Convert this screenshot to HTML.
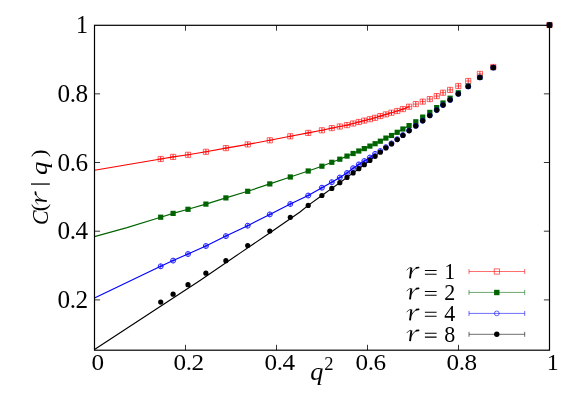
<!DOCTYPE html>
<html><head><meta charset="utf-8"><title>C(r|q) vs q^2</title>
<style>html,body{margin:0;padding:0;background:#fff;}svg{display:block;will-change:transform;}</style>
</head><body>
<svg width="581" height="407" viewBox="0 0 581 407">
<rect width="581" height="407" fill="#fff"/>
<polyline fill="none" stroke="#ff0000" stroke-width="1.15" points="94.5,170.2 160.7,159.0 173.1,156.9 188.0,154.8 205.9,151.8 225.9,148.1 247.7,144.4 269.8,140.3 290.3,136.3 308.2,132.9 321.9,130.3 331.8,128.1 339.8,126.5 347.0,125.1 353.1,123.5 358.8,122.0 364.3,120.6 369.9,119.2 375.1,117.8 380.3,116.1 385.9,114.4 391.5,112.7 397.2,111.0 402.9,109.1 409.1,106.7"/>
<polyline fill="none" stroke="#006400" stroke-width="1.15" points="94.5,236.6 127.0,227.6 160.7,217.2 173.1,213.4 188.0,209.3 205.9,204.1 225.9,197.9 247.7,191.3 269.8,183.9 290.3,177.0 308.2,171.0 321.9,166.2 331.8,162.3 339.8,159.2 347.0,156.1 353.1,153.5 358.8,151.0 364.3,148.6 369.9,146.1 375.1,143.7 380.3,141.2 385.9,138.1 391.5,135.5 397.2,132.3 402.9,129.0 409.1,125.6"/>
<polyline fill="none" stroke="#0000ff" stroke-width="1.15" points="94.5,298.0 160.7,266.3 173.1,260.6 188.0,254.0 205.9,246.0 225.9,236.1 247.7,225.7 269.8,214.4 290.3,204.0 308.2,195.5 321.9,187.7 331.8,182.2 339.8,177.5 347.0,173.0 353.1,168.2 358.8,164.4 364.3,161.0 369.9,157.5 375.1,153.9"/>
<polyline fill="none" stroke="#000000" stroke-width="1.15" points="94.5,349.5 156.0,309.3 200.0,280.5 240.0,253.1 270.0,232.8 300.0,212.0 308.2,205.4 321.9,195.5 331.8,188.4 339.8,182.7 347.0,177.4 353.1,172.9 358.8,168.7 364.3,164.7 369.9,160.4 375.1,156.3"/>
<path d="M158.1 156.4h5.2v5.2h-5.2zM158.1 159.0h5.2" fill="none" stroke="#ff0000" stroke-width="0.6"/>
<path d="M160.7 156.4v5.2" fill="none" stroke="#ff0000" stroke-width="0.9"/>
<path d="M170.5 154.3h5.2v5.2h-5.2zM170.5 156.9h5.2" fill="none" stroke="#ff0000" stroke-width="0.6"/>
<path d="M173.1 154.3v5.2" fill="none" stroke="#ff0000" stroke-width="0.9"/>
<path d="M185.4 152.2h5.2v5.2h-5.2zM185.4 154.8h5.2" fill="none" stroke="#ff0000" stroke-width="0.6"/>
<path d="M188.0 152.2v5.2" fill="none" stroke="#ff0000" stroke-width="0.9"/>
<path d="M203.3 149.2h5.2v5.2h-5.2zM203.3 151.8h5.2" fill="none" stroke="#ff0000" stroke-width="0.6"/>
<path d="M205.9 149.2v5.2" fill="none" stroke="#ff0000" stroke-width="0.9"/>
<path d="M223.3 145.5h5.2v5.2h-5.2zM223.3 148.1h5.2" fill="none" stroke="#ff0000" stroke-width="0.6"/>
<path d="M225.9 145.5v5.2" fill="none" stroke="#ff0000" stroke-width="0.9"/>
<path d="M245.1 141.8h5.2v5.2h-5.2zM245.1 144.4h5.2" fill="none" stroke="#ff0000" stroke-width="0.6"/>
<path d="M247.7 141.8v5.2" fill="none" stroke="#ff0000" stroke-width="0.9"/>
<path d="M267.2 137.7h5.2v5.2h-5.2zM267.2 140.3h5.2" fill="none" stroke="#ff0000" stroke-width="0.6"/>
<path d="M269.8 137.7v5.2" fill="none" stroke="#ff0000" stroke-width="0.9"/>
<path d="M287.7 133.7h5.2v5.2h-5.2zM287.7 136.3h5.2" fill="none" stroke="#ff0000" stroke-width="0.6"/>
<path d="M290.3 133.7v5.2" fill="none" stroke="#ff0000" stroke-width="0.9"/>
<path d="M305.6 130.3h5.2v5.2h-5.2zM305.6 132.9h5.2" fill="none" stroke="#ff0000" stroke-width="0.6"/>
<path d="M308.2 130.3v5.2" fill="none" stroke="#ff0000" stroke-width="0.9"/>
<path d="M319.3 127.7h5.2v5.2h-5.2zM319.3 130.3h5.2" fill="none" stroke="#ff0000" stroke-width="0.6"/>
<path d="M321.9 127.7v5.2" fill="none" stroke="#ff0000" stroke-width="0.9"/>
<path d="M329.2 125.5h5.2v5.2h-5.2zM329.2 128.1h5.2" fill="none" stroke="#ff0000" stroke-width="0.6"/>
<path d="M331.8 125.5v5.2" fill="none" stroke="#ff0000" stroke-width="0.9"/>
<path d="M337.2 123.9h5.2v5.2h-5.2zM337.2 126.5h5.2" fill="none" stroke="#ff0000" stroke-width="0.6"/>
<path d="M339.8 123.9v5.2" fill="none" stroke="#ff0000" stroke-width="0.9"/>
<path d="M344.4 122.5h5.2v5.2h-5.2zM344.4 125.1h5.2" fill="none" stroke="#ff0000" stroke-width="0.6"/>
<path d="M347.0 122.5v5.2" fill="none" stroke="#ff0000" stroke-width="0.9"/>
<path d="M350.5 120.9h5.2v5.2h-5.2zM350.5 123.5h5.2" fill="none" stroke="#ff0000" stroke-width="0.6"/>
<path d="M353.1 120.9v5.2" fill="none" stroke="#ff0000" stroke-width="0.9"/>
<path d="M356.2 119.4h5.2v5.2h-5.2zM356.2 122.0h5.2" fill="none" stroke="#ff0000" stroke-width="0.6"/>
<path d="M358.8 119.4v5.2" fill="none" stroke="#ff0000" stroke-width="0.9"/>
<path d="M361.7 118.0h5.2v5.2h-5.2zM361.7 120.6h5.2" fill="none" stroke="#ff0000" stroke-width="0.6"/>
<path d="M364.3 118.0v5.2" fill="none" stroke="#ff0000" stroke-width="0.9"/>
<path d="M367.3 116.6h5.2v5.2h-5.2zM367.3 119.2h5.2" fill="none" stroke="#ff0000" stroke-width="0.6"/>
<path d="M369.9 116.6v5.2" fill="none" stroke="#ff0000" stroke-width="0.9"/>
<path d="M372.5 115.2h5.2v5.2h-5.2zM372.5 117.8h5.2" fill="none" stroke="#ff0000" stroke-width="0.6"/>
<path d="M375.1 115.2v5.2" fill="none" stroke="#ff0000" stroke-width="0.9"/>
<path d="M377.7 113.5h5.2v5.2h-5.2zM377.7 116.1h5.2" fill="none" stroke="#ff0000" stroke-width="0.6"/>
<path d="M380.3 113.5v5.2" fill="none" stroke="#ff0000" stroke-width="0.9"/>
<path d="M383.3 111.8h5.2v5.2h-5.2zM383.3 114.4h5.2" fill="none" stroke="#ff0000" stroke-width="0.6"/>
<path d="M385.9 111.8v5.2" fill="none" stroke="#ff0000" stroke-width="0.9"/>
<path d="M388.9 110.1h5.2v5.2h-5.2zM388.9 112.7h5.2" fill="none" stroke="#ff0000" stroke-width="0.6"/>
<path d="M391.5 110.1v5.2" fill="none" stroke="#ff0000" stroke-width="0.9"/>
<path d="M394.6 108.4h5.2v5.2h-5.2zM394.6 111.0h5.2" fill="none" stroke="#ff0000" stroke-width="0.6"/>
<path d="M397.2 108.4v5.2" fill="none" stroke="#ff0000" stroke-width="0.9"/>
<path d="M400.3 106.5h5.2v5.2h-5.2zM400.3 109.1h5.2" fill="none" stroke="#ff0000" stroke-width="0.6"/>
<path d="M402.9 106.5v5.2" fill="none" stroke="#ff0000" stroke-width="0.9"/>
<path d="M406.5 104.1h5.2v5.2h-5.2zM406.5 106.7h5.2" fill="none" stroke="#ff0000" stroke-width="0.6"/>
<path d="M409.1 104.1v5.2" fill="none" stroke="#ff0000" stroke-width="0.9"/>
<path d="M413.2 101.5h5.2v5.2h-5.2zM413.2 104.1h5.2" fill="none" stroke="#ff0000" stroke-width="0.6"/>
<path d="M415.8 101.5v5.2" fill="none" stroke="#ff0000" stroke-width="0.9"/>
<path d="M420.1 99.0h5.2v5.2h-5.2zM420.1 101.6h5.2" fill="none" stroke="#ff0000" stroke-width="0.6"/>
<path d="M422.7 99.0v5.2" fill="none" stroke="#ff0000" stroke-width="0.9"/>
<path d="M427.2 96.5h5.2v5.2h-5.2zM427.2 99.1h5.2" fill="none" stroke="#ff0000" stroke-width="0.6"/>
<path d="M429.8 96.5v5.2" fill="none" stroke="#ff0000" stroke-width="0.9"/>
<path d="M434.1 93.5h5.2v5.2h-5.2zM434.1 96.1h5.2" fill="none" stroke="#ff0000" stroke-width="0.6"/>
<path d="M436.7 93.5v5.2" fill="none" stroke="#ff0000" stroke-width="0.9"/>
<path d="M440.4 90.1h5.2v5.2h-5.2zM440.4 92.7h5.2" fill="none" stroke="#ff0000" stroke-width="0.6"/>
<path d="M443.0 90.1v5.2" fill="none" stroke="#ff0000" stroke-width="0.9"/>
<path d="M447.5 87.3h5.2v5.2h-5.2zM447.5 89.9h5.2" fill="none" stroke="#ff0000" stroke-width="0.6"/>
<path d="M450.1 87.3v5.2" fill="none" stroke="#ff0000" stroke-width="0.9"/>
<path d="M455.7 83.4h5.2v5.2h-5.2zM455.7 86.0h5.2" fill="none" stroke="#ff0000" stroke-width="0.6"/>
<path d="M458.3 83.4v5.2" fill="none" stroke="#ff0000" stroke-width="0.9"/>
<path d="M465.6 78.4h5.2v5.2h-5.2zM465.6 81.0h5.2" fill="none" stroke="#ff0000" stroke-width="0.6"/>
<path d="M468.2 78.4v5.2" fill="none" stroke="#ff0000" stroke-width="0.9"/>
<path d="M477.3 71.3h5.2v5.2h-5.2zM477.3 73.9h5.2" fill="none" stroke="#ff0000" stroke-width="0.6"/>
<path d="M479.9 71.3v5.2" fill="none" stroke="#ff0000" stroke-width="0.9"/>
<path d="M490.7 64.4h5.2v5.2h-5.2zM490.7 67.0h5.2" fill="none" stroke="#ff0000" stroke-width="0.6"/>
<path d="M493.3 64.4v5.2" fill="none" stroke="#ff0000" stroke-width="0.9"/>
<path d="M546.9 22.4h5.2v5.2h-5.2zM546.9 25.0h5.2" fill="none" stroke="#ff0000" stroke-width="0.6"/>
<path d="M549.5 22.4v5.2" fill="none" stroke="#ff0000" stroke-width="0.9"/>
<rect x="158.1" y="214.6" width="5.2" height="5.2" fill="#006400"/>
<rect x="170.5" y="210.8" width="5.2" height="5.2" fill="#006400"/>
<rect x="185.4" y="206.7" width="5.2" height="5.2" fill="#006400"/>
<rect x="203.3" y="201.5" width="5.2" height="5.2" fill="#006400"/>
<rect x="223.3" y="195.3" width="5.2" height="5.2" fill="#006400"/>
<rect x="245.1" y="188.7" width="5.2" height="5.2" fill="#006400"/>
<rect x="267.2" y="181.3" width="5.2" height="5.2" fill="#006400"/>
<rect x="287.7" y="174.4" width="5.2" height="5.2" fill="#006400"/>
<rect x="305.6" y="168.4" width="5.2" height="5.2" fill="#006400"/>
<rect x="319.3" y="163.6" width="5.2" height="5.2" fill="#006400"/>
<rect x="329.2" y="159.7" width="5.2" height="5.2" fill="#006400"/>
<rect x="337.2" y="156.6" width="5.2" height="5.2" fill="#006400"/>
<rect x="344.4" y="153.5" width="5.2" height="5.2" fill="#006400"/>
<rect x="350.5" y="150.9" width="5.2" height="5.2" fill="#006400"/>
<rect x="356.2" y="148.4" width="5.2" height="5.2" fill="#006400"/>
<rect x="361.7" y="146.0" width="5.2" height="5.2" fill="#006400"/>
<rect x="367.3" y="143.5" width="5.2" height="5.2" fill="#006400"/>
<rect x="372.5" y="141.1" width="5.2" height="5.2" fill="#006400"/>
<rect x="377.7" y="138.6" width="5.2" height="5.2" fill="#006400"/>
<rect x="383.3" y="135.5" width="5.2" height="5.2" fill="#006400"/>
<rect x="388.9" y="132.9" width="5.2" height="5.2" fill="#006400"/>
<rect x="394.6" y="129.7" width="5.2" height="5.2" fill="#006400"/>
<rect x="400.3" y="126.4" width="5.2" height="5.2" fill="#006400"/>
<rect x="406.5" y="123.0" width="5.2" height="5.2" fill="#006400"/>
<rect x="413.2" y="119.2" width="5.2" height="5.2" fill="#006400"/>
<rect x="420.1" y="114.5" width="5.2" height="5.2" fill="#006400"/>
<rect x="427.2" y="109.8" width="5.2" height="5.2" fill="#006400"/>
<rect x="434.1" y="105.0" width="5.2" height="5.2" fill="#006400"/>
<rect x="440.4" y="100.4" width="5.2" height="5.2" fill="#006400"/>
<rect x="447.5" y="95.6" width="5.2" height="5.2" fill="#006400"/>
<rect x="455.7" y="90.2" width="5.2" height="5.2" fill="#006400"/>
<rect x="465.6" y="83.4" width="5.2" height="5.2" fill="#006400"/>
<rect x="477.3" y="74.8" width="5.2" height="5.2" fill="#006400"/>
<rect x="490.7" y="65.0" width="5.2" height="5.2" fill="#006400"/>
<rect x="546.9" y="22.4" width="5.2" height="5.2" fill="#006400"/>
<circle cx="160.7" cy="266.3" r="2.5" fill="none" stroke="#0000ff" stroke-width="0.8"/>
<path d="M160.7 263.8v5.0M158.2 266.3h5.0" fill="none" stroke="#0000ff" stroke-width="0.7"/>
<circle cx="173.1" cy="260.6" r="2.5" fill="none" stroke="#0000ff" stroke-width="0.8"/>
<path d="M173.1 258.1v5.0M170.6 260.6h5.0" fill="none" stroke="#0000ff" stroke-width="0.7"/>
<circle cx="188.0" cy="254.0" r="2.5" fill="none" stroke="#0000ff" stroke-width="0.8"/>
<path d="M188.0 251.5v5.0M185.5 254.0h5.0" fill="none" stroke="#0000ff" stroke-width="0.7"/>
<circle cx="205.9" cy="246.0" r="2.5" fill="none" stroke="#0000ff" stroke-width="0.8"/>
<path d="M205.9 243.5v5.0M203.4 246.0h5.0" fill="none" stroke="#0000ff" stroke-width="0.7"/>
<circle cx="225.9" cy="236.1" r="2.5" fill="none" stroke="#0000ff" stroke-width="0.8"/>
<path d="M225.9 233.6v5.0M223.4 236.1h5.0" fill="none" stroke="#0000ff" stroke-width="0.7"/>
<circle cx="247.7" cy="225.7" r="2.5" fill="none" stroke="#0000ff" stroke-width="0.8"/>
<path d="M247.7 223.2v5.0M245.2 225.7h5.0" fill="none" stroke="#0000ff" stroke-width="0.7"/>
<circle cx="269.8" cy="214.4" r="2.5" fill="none" stroke="#0000ff" stroke-width="0.8"/>
<path d="M269.8 211.9v5.0M267.3 214.4h5.0" fill="none" stroke="#0000ff" stroke-width="0.7"/>
<circle cx="290.3" cy="204.0" r="2.5" fill="none" stroke="#0000ff" stroke-width="0.8"/>
<path d="M290.3 201.5v5.0M287.8 204.0h5.0" fill="none" stroke="#0000ff" stroke-width="0.7"/>
<circle cx="308.2" cy="195.5" r="2.5" fill="none" stroke="#0000ff" stroke-width="0.8"/>
<path d="M308.2 193.0v5.0M305.7 195.5h5.0" fill="none" stroke="#0000ff" stroke-width="0.7"/>
<circle cx="321.9" cy="187.7" r="2.5" fill="none" stroke="#0000ff" stroke-width="0.8"/>
<path d="M321.9 185.2v5.0M319.4 187.7h5.0" fill="none" stroke="#0000ff" stroke-width="0.7"/>
<circle cx="331.8" cy="182.2" r="2.5" fill="none" stroke="#0000ff" stroke-width="0.8"/>
<path d="M331.8 179.7v5.0M329.3 182.2h5.0" fill="none" stroke="#0000ff" stroke-width="0.7"/>
<circle cx="339.8" cy="177.5" r="2.5" fill="none" stroke="#0000ff" stroke-width="0.8"/>
<path d="M339.8 175.0v5.0M337.3 177.5h5.0" fill="none" stroke="#0000ff" stroke-width="0.7"/>
<circle cx="347.0" cy="173.0" r="2.5" fill="none" stroke="#0000ff" stroke-width="0.8"/>
<path d="M347.0 170.5v5.0M344.5 173.0h5.0" fill="none" stroke="#0000ff" stroke-width="0.7"/>
<circle cx="353.1" cy="168.2" r="2.5" fill="none" stroke="#0000ff" stroke-width="0.8"/>
<path d="M353.1 165.7v5.0M350.6 168.2h5.0" fill="none" stroke="#0000ff" stroke-width="0.7"/>
<circle cx="358.8" cy="164.4" r="2.5" fill="none" stroke="#0000ff" stroke-width="0.8"/>
<path d="M358.8 161.9v5.0M356.3 164.4h5.0" fill="none" stroke="#0000ff" stroke-width="0.7"/>
<circle cx="364.3" cy="161.0" r="2.5" fill="none" stroke="#0000ff" stroke-width="0.8"/>
<path d="M364.3 158.5v5.0M361.8 161.0h5.0" fill="none" stroke="#0000ff" stroke-width="0.7"/>
<circle cx="369.9" cy="157.5" r="2.5" fill="none" stroke="#0000ff" stroke-width="0.8"/>
<path d="M369.9 155.0v5.0M367.4 157.5h5.0" fill="none" stroke="#0000ff" stroke-width="0.7"/>
<circle cx="375.1" cy="153.9" r="2.5" fill="none" stroke="#0000ff" stroke-width="0.8"/>
<path d="M375.1 151.4v5.0M372.6 153.9h5.0" fill="none" stroke="#0000ff" stroke-width="0.7"/>
<circle cx="380.3" cy="151.0" r="2.5" fill="none" stroke="#0000ff" stroke-width="0.8"/>
<path d="M380.3 148.5v5.0M377.8 151.0h5.0" fill="none" stroke="#0000ff" stroke-width="0.7"/>
<circle cx="385.9" cy="147.2" r="2.5" fill="none" stroke="#0000ff" stroke-width="0.8"/>
<path d="M385.9 144.7v5.0M383.4 147.2h5.0" fill="none" stroke="#0000ff" stroke-width="0.7"/>
<circle cx="391.5" cy="143.4" r="2.5" fill="none" stroke="#0000ff" stroke-width="0.8"/>
<path d="M391.5 140.9v5.0M389.0 143.4h5.0" fill="none" stroke="#0000ff" stroke-width="0.7"/>
<circle cx="397.2" cy="139.2" r="2.5" fill="none" stroke="#0000ff" stroke-width="0.8"/>
<path d="M397.2 136.7v5.0M394.7 139.2h5.0" fill="none" stroke="#0000ff" stroke-width="0.7"/>
<circle cx="402.9" cy="135.1" r="2.5" fill="none" stroke="#0000ff" stroke-width="0.8"/>
<path d="M402.9 132.6v5.0M400.4 135.1h5.0" fill="none" stroke="#0000ff" stroke-width="0.7"/>
<circle cx="409.1" cy="130.5" r="2.5" fill="none" stroke="#0000ff" stroke-width="0.8"/>
<path d="M409.1 128.0v5.0M406.6 130.5h5.0" fill="none" stroke="#0000ff" stroke-width="0.7"/>
<circle cx="415.8" cy="125.8" r="2.5" fill="none" stroke="#0000ff" stroke-width="0.8"/>
<path d="M415.8 123.3v5.0M413.3 125.8h5.0" fill="none" stroke="#0000ff" stroke-width="0.7"/>
<circle cx="422.7" cy="120.7" r="2.5" fill="none" stroke="#0000ff" stroke-width="0.8"/>
<path d="M422.7 118.2v5.0M420.2 120.7h5.0" fill="none" stroke="#0000ff" stroke-width="0.7"/>
<circle cx="429.8" cy="115.5" r="2.5" fill="none" stroke="#0000ff" stroke-width="0.8"/>
<path d="M429.8 113.0v5.0M427.3 115.5h5.0" fill="none" stroke="#0000ff" stroke-width="0.7"/>
<circle cx="436.7" cy="110.1" r="2.5" fill="none" stroke="#0000ff" stroke-width="0.8"/>
<path d="M436.7 107.6v5.0M434.2 110.1h5.0" fill="none" stroke="#0000ff" stroke-width="0.7"/>
<circle cx="443.0" cy="105.1" r="2.5" fill="none" stroke="#0000ff" stroke-width="0.8"/>
<path d="M443.0 102.6v5.0M440.5 105.1h5.0" fill="none" stroke="#0000ff" stroke-width="0.7"/>
<circle cx="450.1" cy="99.9" r="2.5" fill="none" stroke="#0000ff" stroke-width="0.8"/>
<path d="M450.1 97.4v5.0M447.6 99.9h5.0" fill="none" stroke="#0000ff" stroke-width="0.7"/>
<circle cx="458.3" cy="93.9" r="2.5" fill="none" stroke="#0000ff" stroke-width="0.8"/>
<path d="M458.3 91.4v5.0M455.8 93.9h5.0" fill="none" stroke="#0000ff" stroke-width="0.7"/>
<circle cx="468.2" cy="86.5" r="2.5" fill="none" stroke="#0000ff" stroke-width="0.8"/>
<path d="M468.2 84.0v5.0M465.7 86.5h5.0" fill="none" stroke="#0000ff" stroke-width="0.7"/>
<circle cx="479.9" cy="77.5" r="2.5" fill="none" stroke="#0000ff" stroke-width="0.8"/>
<path d="M479.9 75.0v5.0M477.4 77.5h5.0" fill="none" stroke="#0000ff" stroke-width="0.7"/>
<circle cx="493.3" cy="67.6" r="2.5" fill="none" stroke="#0000ff" stroke-width="0.8"/>
<path d="M493.3 65.1v5.0M490.8 67.6h5.0" fill="none" stroke="#0000ff" stroke-width="0.7"/>
<circle cx="549.5" cy="25.0" r="2.5" fill="none" stroke="#0000ff" stroke-width="0.8"/>
<path d="M549.5 22.5v5.0M547.0 25.0h5.0" fill="none" stroke="#0000ff" stroke-width="0.7"/>
<circle cx="160.7" cy="302.1" r="2.6" fill="#000"/>
<circle cx="173.1" cy="294.2" r="2.6" fill="#000"/>
<circle cx="188.0" cy="284.7" r="2.6" fill="#000"/>
<circle cx="205.9" cy="273.2" r="2.6" fill="#000"/>
<circle cx="225.9" cy="260.7" r="2.6" fill="#000"/>
<circle cx="247.7" cy="245.5" r="2.6" fill="#000"/>
<circle cx="269.8" cy="231.0" r="2.6" fill="#000"/>
<circle cx="290.3" cy="217.3" r="2.6" fill="#000"/>
<circle cx="308.2" cy="205.4" r="2.6" fill="#000"/>
<circle cx="321.9" cy="195.5" r="2.6" fill="#000"/>
<circle cx="331.8" cy="188.4" r="2.6" fill="#000"/>
<circle cx="339.8" cy="182.7" r="2.6" fill="#000"/>
<circle cx="347.0" cy="177.4" r="2.6" fill="#000"/>
<circle cx="353.1" cy="172.9" r="2.6" fill="#000"/>
<circle cx="358.8" cy="168.7" r="2.6" fill="#000"/>
<circle cx="364.3" cy="164.7" r="2.6" fill="#000"/>
<circle cx="369.9" cy="160.4" r="2.6" fill="#000"/>
<circle cx="375.1" cy="156.3" r="2.6" fill="#000"/>
<circle cx="380.3" cy="152.2" r="2.6" fill="#000"/>
<circle cx="385.9" cy="147.9" r="2.6" fill="#000"/>
<circle cx="391.5" cy="143.9" r="2.6" fill="#000"/>
<circle cx="397.2" cy="139.6" r="2.6" fill="#000"/>
<circle cx="402.9" cy="135.4" r="2.6" fill="#000"/>
<circle cx="409.1" cy="130.7" r="2.6" fill="#000"/>
<circle cx="415.8" cy="125.9" r="2.6" fill="#000"/>
<circle cx="422.7" cy="120.8" r="2.6" fill="#000"/>
<circle cx="429.8" cy="115.5" r="2.6" fill="#000"/>
<circle cx="436.7" cy="110.1" r="2.6" fill="#000"/>
<circle cx="443.0" cy="105.1" r="2.6" fill="#000"/>
<circle cx="450.1" cy="99.9" r="2.6" fill="#000"/>
<circle cx="458.3" cy="93.9" r="2.6" fill="#000"/>
<circle cx="468.2" cy="86.5" r="2.6" fill="#000"/>
<circle cx="479.9" cy="77.5" r="2.6" fill="#000"/>
<circle cx="493.3" cy="67.6" r="2.6" fill="#000"/>
<circle cx="549.5" cy="25.0" r="2.6" fill="#000"/>
<rect x="546.9" y="22.4" width="5.3" height="5.3" rx="0.8" fill="#000"/>
<rect x="94.50" y="25.30" width="455.00" height="324.90" fill="none" stroke="#000" stroke-width="1.2"/>
<path d="M185.5 350.20v-5.4M185.5 25.30v5.4M276.5 350.20v-5.4M276.5 25.30v5.4M367.5 350.20v-5.4M367.5 25.30v5.4M458.5 350.20v-5.4M458.5 25.30v5.4M94.5 299.90h5.6M549.5 299.90h-5.6M94.5 231.20h5.6M549.5 231.20h-5.6M94.5 162.50h5.6M549.5 162.50h-5.6M94.5 93.85h5.6M549.5 93.85h-5.6" stroke="#000" stroke-width="0.8" fill="none"/>
<g font-family="Liberation Serif, serif" font-size="24" fill="#000" letter-spacing="-0.45"><text transform="translate(97.6,370.1) scale(1.05,1.0)" text-anchor="middle">0</text><text transform="translate(188.6,370.1) scale(1.05,1.0)" text-anchor="middle">0.2</text><text transform="translate(279.6,370.1) scale(1.05,1.0)" text-anchor="middle">0.4</text><text transform="translate(370.6,370.1) scale(1.05,1.0)" text-anchor="middle">0.6</text><text transform="translate(461.6,370.1) scale(1.05,1.0)" text-anchor="middle">0.8</text><text transform="translate(552.6,370.1) scale(1.0,1.0)" text-anchor="middle">1</text><text transform="translate(87.6,33.3) scale(1.0,1.02)" text-anchor="end">1</text><text transform="translate(87.6,101.9) scale(1.05,1.04)" text-anchor="end">0.8</text><text transform="translate(87.6,170.6) scale(1.05,1.04)" text-anchor="end">0.6</text><text transform="translate(87.6,239.3) scale(1.05,1.04)" text-anchor="end">0.4</text><text transform="translate(87.6,308.0) scale(1.05,1.04)" text-anchor="end">0.2</text></g>
<text transform="translate(310.2,380.2) scale(1.05,1)" font-family="Liberation Serif, serif" font-size="25" font-style="italic">q</text>
<text x="324.2" y="370.2" font-family="Liberation Serif, serif" font-size="18.5">2</text>
<g transform="translate(47.3,223.9) rotate(-90)" font-family="Liberation Serif, serif" font-size="23.5" fill="#000"><text transform="translate(6.2,0.3) scale(0.93,1.02)" text-anchor="middle" font-style="italic">C</text><text transform="translate(16.3,-1.5) scale(0.95,0.92)" text-anchor="middle">(</text><g transform="translate(18.6,0) scale(1.04)"><g fill="none" stroke="#000" stroke-linecap="round"><path d="M0.9 -8.9Q2.6 -11.4 4.7 -11.5" stroke-width="0.7"/><path d="M5.4 -11.3L4.0 -0.5" stroke-width="1.9" stroke-linecap="butt"/><path d="M4.9 -5.0Q7.4 -10.2 10.6 -11.1" stroke-width="0.8"/><path d="M10.4 -11.1L12.6 -11.4" stroke-width="1.7"/></g></g><path d="M39.85 -16.3V2.5" stroke="#000" stroke-width="1.3" fill="none"/><text transform="translate(55.6,0) scale(1.14,0.98)" text-anchor="middle" font-style="italic">q</text><text transform="translate(70.6,-1.5) scale(1,0.92)" text-anchor="middle">)</text></g>
<g transform="translate(406.0,278.9)"><g fill="none" stroke="#000" stroke-linecap="round"><path d="M0.9 -8.9Q2.6 -11.4 4.7 -11.5" stroke-width="0.7"/><path d="M5.4 -11.3L4.0 -0.5" stroke-width="1.9" stroke-linecap="butt"/><path d="M4.9 -5.0Q7.4 -10.2 10.6 -11.1" stroke-width="0.8"/><path d="M10.4 -11.1L12.6 -11.4" stroke-width="1.7"/></g></g>
<path d="M424.9 270.4h11.7M424.9 274.3h11.7" stroke="#000" stroke-width="1.05" fill="none"/>
<text transform="translate(455.2,278.9) scale(1,1.08)" text-anchor="end" font-family="Liberation Serif, serif" font-size="22">1</text>
<path d="M469 271.5H524.7M469 269.0v5M524.7 269.0v5" stroke="#ff0000" stroke-width="0.8" stroke-opacity="0.72" fill="none"/>
<g transform="translate(406.0,299.8)"><g fill="none" stroke="#000" stroke-linecap="round"><path d="M0.9 -8.9Q2.6 -11.4 4.7 -11.5" stroke-width="0.7"/><path d="M5.4 -11.3L4.0 -0.5" stroke-width="1.9" stroke-linecap="butt"/><path d="M4.9 -5.0Q7.4 -10.2 10.6 -11.1" stroke-width="0.8"/><path d="M10.4 -11.1L12.6 -11.4" stroke-width="1.7"/></g></g>
<path d="M424.9 291.4h11.7M424.9 295.2h11.7" stroke="#000" stroke-width="1.05" fill="none"/>
<text transform="translate(455.2,299.8) scale(1,1.08)" text-anchor="end" font-family="Liberation Serif, serif" font-size="22">2</text>
<path d="M469 292.4H524.7M469 289.9v5M524.7 289.9v5" stroke="#006400" stroke-width="0.8" stroke-opacity="0.72" fill="none"/>
<g transform="translate(406.0,320.8)"><g fill="none" stroke="#000" stroke-linecap="round"><path d="M0.9 -8.9Q2.6 -11.4 4.7 -11.5" stroke-width="0.7"/><path d="M5.4 -11.3L4.0 -0.5" stroke-width="1.9" stroke-linecap="butt"/><path d="M4.9 -5.0Q7.4 -10.2 10.6 -11.1" stroke-width="0.8"/><path d="M10.4 -11.1L12.6 -11.4" stroke-width="1.7"/></g></g>
<path d="M424.9 312.3h11.7M424.9 316.2h11.7" stroke="#000" stroke-width="1.05" fill="none"/>
<text transform="translate(455.2,320.8) scale(1,1.08)" text-anchor="end" font-family="Liberation Serif, serif" font-size="22">4</text>
<path d="M469 313.4H524.7M469 310.9v5M524.7 310.9v5" stroke="#0000ff" stroke-width="0.8" stroke-opacity="0.72" fill="none"/>
<g transform="translate(406.0,341.7)"><g fill="none" stroke="#000" stroke-linecap="round"><path d="M0.9 -8.9Q2.6 -11.4 4.7 -11.5" stroke-width="0.7"/><path d="M5.4 -11.3L4.0 -0.5" stroke-width="1.9" stroke-linecap="butt"/><path d="M4.9 -5.0Q7.4 -10.2 10.6 -11.1" stroke-width="0.8"/><path d="M10.4 -11.1L12.6 -11.4" stroke-width="1.7"/></g></g>
<path d="M424.9 333.2h11.7M424.9 337.1h11.7" stroke="#000" stroke-width="1.05" fill="none"/>
<text transform="translate(455.2,341.7) scale(1,1.08)" text-anchor="end" font-family="Liberation Serif, serif" font-size="22">8</text>
<path d="M469 334.3H524.7M469 331.8v5M524.7 331.8v5" stroke="#000000" stroke-width="0.8" stroke-opacity="0.72" fill="none"/>
<rect x="494.2" y="268.9" width="5.2" height="5.2" fill="none" stroke="#ff0000" stroke-width="0.8" stroke-opacity="0.75"/>
<rect x="494.1" y="289.8" width="5.4" height="5.4" fill="#006400"/>
<circle cx="496.8" cy="313.4" r="2.4" fill="none" stroke="#0000ff" stroke-width="0.8" stroke-opacity="0.75"/>
<circle cx="496.8" cy="334.3" r="2.7" fill="#000"/>
</svg>
</body></html>
